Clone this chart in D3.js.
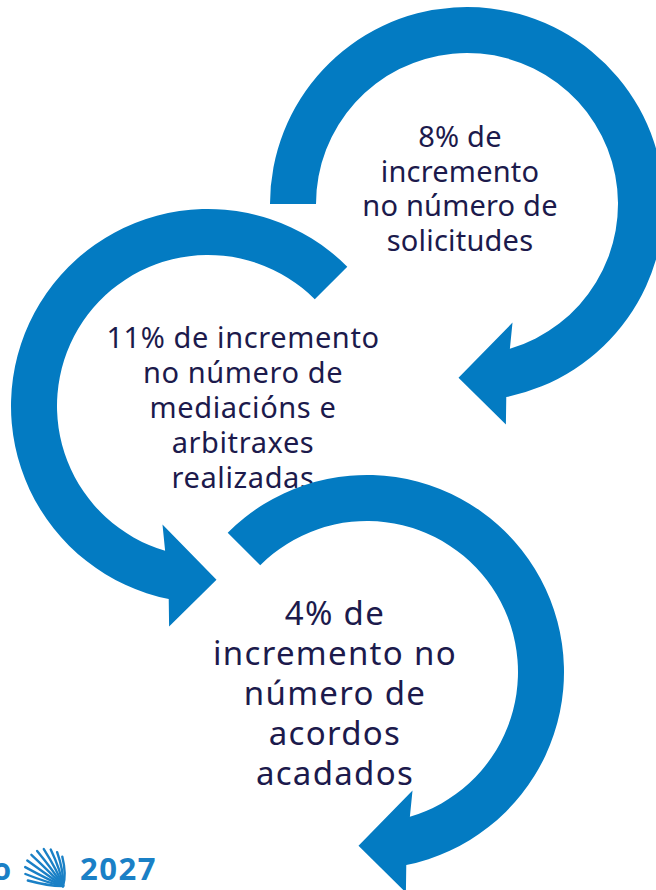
<!DOCTYPE html>
<html>
<head>
<meta charset="utf-8">
<script src="https://cdn.jsdelivr.net/npm/d3@7"></script>
<style>
  body { margin: 0; background: #fff; }
  svg { display: block; }
</style>
</head>
<body>
<div id="chart"></div>
<script>
// Canvas
var width = 656,
    height = 890;

// The three figures shown in the arrows
var percentages = [8, 11, 4];

// Caption lines of each step (first line follows the percentage)
var stepLines = [
    ["% de", "incremento", "no número de", "solicitudes"],
    ["% de incremento", "no número de", "mediacións e", "arbitraxes", "realizadas"],
    ["% de", "incremento no", "número de", "acordos", "acadados"]
];

// Logo texts
var logoWords = ["Xacobeo", "2027"];

// Layout of each circular arrow (centre, where the tail starts, turning direction) and its text block
var arrowLayout = [
    {cx: 467, cy: 204, start: 180, dir: 1, tx: 460, ty: 147, fontSize: 29, lineH: 34.7, spacing: 0.2},
    {cx: 208, cy: 406, start: -45, dir: -1, tx: 243, ty: 348, fontSize: 29, lineH: 35, spacing: 0.6},
    {cx: 367, cy: 672, start: 225, dir: 1, tx: 335, ty: 625, fontSize: 33, lineH: 40, spacing: 1.3}
];

var rOuter = 197,
    rInner = 151;

var blue = "#037bc2",
    navy = "#1c1a4c",
    logoBlue = "#1a80c6";

var svg = d3.select("#chart")
    .append("svg")
    .attr("width", width)
    .attr("height", height);

var rad = Math.PI / 180;

// arrowhead points given for a clockwise arrow: [angle, radius]
var head = {
    neckOuter: [78.5, 197],
    lowBarb: [80, 224],
    tip: [92.8, 174],
    upBarb: [69, 127],
    neckInner: [73.5, 151]
};

function arrowPath(a) {
    var p = d3.path();
    function ang(deg) { return (a.dir > 0 ? deg : 180 - deg) * rad; }
    function pt(h) {
        var t = ang(h[0]);
        return [a.cx + h[1] * Math.cos(t), a.cy + h[1] * Math.sin(t)];
    }
    var s = a.start * rad;
    p.moveTo(a.cx + rOuter * Math.cos(s), a.cy + rOuter * Math.sin(s));
    p.arc(a.cx, a.cy, rOuter, s, ang(head.neckOuter[0]), a.dir < 0);
    [head.lowBarb, head.tip, head.upBarb, head.neckInner].forEach(function(h) {
        var q = pt(h);
        p.lineTo(q[0], q[1]);
    });
    p.arc(a.cx, a.cy, rInner, ang(head.neckInner[0]), s, a.dir > 0);
    p.closePath();
    return p.toString();
}

// draw arrow then its text, in order, so later arrows sit on earlier texts
arrowLayout.forEach(function(a, i) {
    var g = svg.append("g").attr("class", "step");

    g.append("path")
        .attr("d", arrowPath(a))
        .attr("fill", blue);

    var lines = stepLines[i].map(function(d, j) {
        return j === 0 ? percentages[i] + d : d;
    });

    g.selectAll("text")
        .data(lines)
        .enter()
        .append("text")
        .attr("x", a.tx)
        .attr("y", function(d, j) { return a.ty + j * a.lineH; })
        .attr("text-anchor", "middle")
        .attr("font-family", "'Noto Sans', sans-serif")
        .attr("font-size", a.fontSize + "px")
        .attr("letter-spacing", a.spacing + "px")
        .attr("fill", navy)
        .text(function(d) { return d; });
});

// logo at the bottom left (cut by the page edge)
var logo = svg.append("g").attr("class", "logo");

logo.append("text")
    .attr("x", 11)
    .attr("y", 880)
    .attr("text-anchor", "end")
    .attr("font-family", "'Open Sans', sans-serif")
    .attr("font-weight", 700)
    .attr("font-size", "30px")
    .attr("fill", logoBlue)
    .text(logoWords[0]);

logo.append("text")
    .attr("x", 80)
    .attr("y", 880)
    .attr("font-family", "'Open Sans', sans-serif")
    .attr("font-weight", 700)
    .attr("font-size", "31px")
    .attr("letter-spacing", "1.5px")
    .attr("fill", logoBlue)
    .text(logoWords[1]);

// scallop shell: curved rays from the hinge to the rim
var hinge = [63, 886],
    rim = {cx: 46, cy: 870, r: 21};
var rayAngles = d3.range(10).map(function(k) { return 150 + k * 19; });
logo.selectAll(".ray")
    .data(rayAngles)
    .enter()
    .append("path")
    .attr("class", "ray")
    .attr("d", function(d) {
        var t = d * rad,
            ex = rim.cx + rim.r * Math.cos(t),
            ey = rim.cy + rim.r * Math.sin(t),
            mx = (hinge[0] + ex) / 2 + 4,
            my = (hinge[1] + ey) / 2 + 3;
        return "M" + hinge[0] + "," + hinge[1] + "Q" + mx + "," + my + " " + ex + "," + ey;
    })
    .attr("fill", "none")
    .attr("stroke", logoBlue)
    .attr("stroke-width", 2.4)
    .attr("stroke-linecap", "round");
</script>
</body>
</html>
